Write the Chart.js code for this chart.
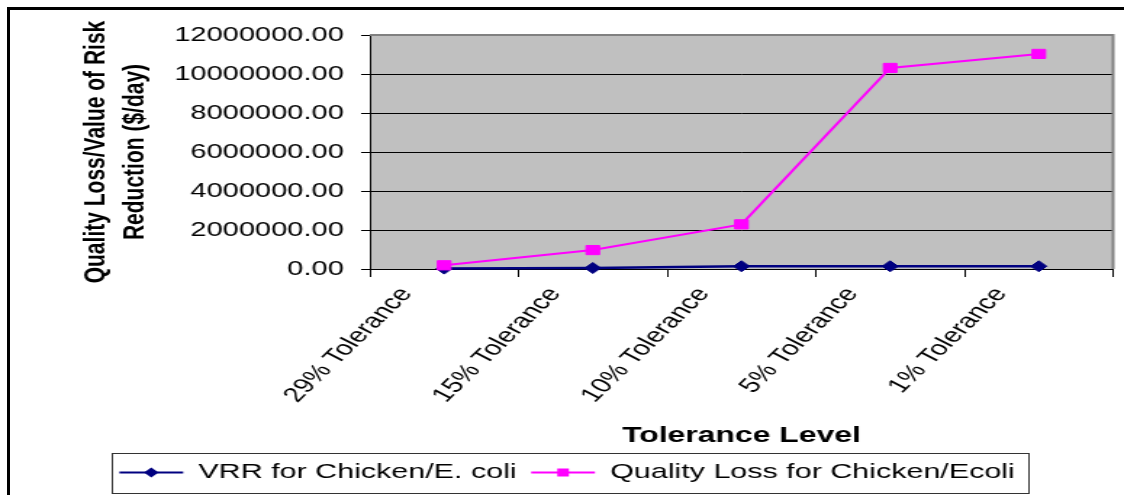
<!DOCTYPE html>
<html>
<head>
<meta charset="utf-8">
<script src="https://cdn.jsdelivr.net/npm/chart.js@4.4.0/dist/chart.umd.min.js"></script>
<style>
  html, body { margin: 0; padding: 0; background: #fff; overflow: hidden; }
  #frame { position: absolute; left: 0; top: 0; width: 1124px; height: 495px; overflow: hidden; }
  /* chart is laid out narrow and widened horizontally, like the original sheet graphic */
  #wrap { position: absolute; left: 0; top: 0; width: 775px; height: 495px; transform: scaleX(1.4503); transform-origin: 0 0; }
  #edge { position: absolute; left: 7px; top: 7px; width: 1300px; height: 700px; border-left: 3px solid #000; border-top: 3px solid #000; pointer-events: none; }
</style>
</head>
<body>
<div id="frame">
  <div id="wrap"><canvas id="chart" width="775" height="495"></canvas></div>
  <div id="edge"></div>
</div>
<script>
// Tolerance levels on the category axis
const categories = ['29% Tolerance', '15% Tolerance', '10% Tolerance', '5% Tolerance', '1% Tolerance'];

// Series names
const seriesNames = ['VRR for Chicken/E. coli', 'Quality Loss for Chicken/Ecoli'];

// Value of risk reduction ($/day)
const vrrValues = [20000, 50000, 140000, 140000, 140000];

// Quality loss ($/day)
const qualityLossValues = [190000, 970000, 2290000, 10310000, 11030000];

// Value axis range and step
const yMin = 0;
const yMax = 12000000;
const yStep = 2000000;

const axisTitleX = 'Tolerance Level';
const axisTitleY = ['Quality Loss/Value of Risk', 'Reduction ($/day)'];

const FONT = "'Liberation Sans', Arial, sans-serif";
Chart.defaults.font.family = FONT;
Chart.defaults.color = '#000';

const seriesColors = ['#000080', '#FF00FF'];
const seriesMarkers = ['rectRot', 'rect'];

// Grey plot background, grey top/right frame, bordered legend with line+marker samples
const plotDecor = {
  id: 'plotDecor',
  beforeDraw(chart) {
    const { ctx, chartArea: a } = chart;
    ctx.save();
    ctx.fillStyle = '#C0C0C0';
    ctx.fillRect(a.left, a.top, a.right - a.left, a.bottom - a.top);
    ctx.restore();
  },
  beforeDatasetsDraw(chart) {
    const { ctx, chartArea: a } = chart;
    ctx.save();
    ctx.strokeStyle = '#808080';
    ctx.lineWidth = 2;
    ctx.beginPath();
    ctx.moveTo(a.left, a.top);
    ctx.lineTo(a.right, a.top);
    ctx.lineTo(a.right, a.bottom);
    ctx.stroke();
    ctx.restore();
  },
  afterDraw(chart) {
    const legend = chart.legend;
    if (!legend || !legend.legendHitBoxes || !legend.legendHitBoxes.length) return;
    const ctx = chart.ctx;
    const boxes = legend.legendHitBoxes;
    const bw = legend.options.labels.boxWidth;
    ctx.save();
    boxes.forEach((hb, i) => {
      const cy = hb.top + hb.height / 2;
      const x0 = hb.left;
      ctx.strokeStyle = seriesColors[i];
      ctx.lineWidth = 2;
      ctx.beginPath();
      ctx.moveTo(x0, cy);
      ctx.lineTo(x0 + bw, cy);
      ctx.stroke();
      const cx = x0 + bw / 2;
      ctx.fillStyle = seriesColors[i];
      ctx.beginPath();
      if (seriesMarkers[i] === 'rectRot') {
        const r = 5;
        ctx.moveTo(cx - r, cy);
        ctx.lineTo(cx, cy - r);
        ctx.lineTo(cx + r, cy);
        ctx.lineTo(cx, cy + r);
        ctx.closePath();
      } else {
        ctx.rect(cx - 4, cy - 4, 8, 8);
      }
      ctx.fill();
    });
    // legend frame
    const first = boxes[0];
    const last = boxes[boxes.length - 1];
    const cy = first.top + first.height / 2;
    const left = first.left - 5;
    const right = last.left + last.width + 10;
    ctx.strokeStyle = '#333';
    ctx.lineWidth = 1;
    ctx.strokeRect(Math.round(left) + 0.5, Math.round(cy - 20) + 0.5, Math.round(right - left), 40);
    ctx.restore();
  }
};

new Chart(document.getElementById('chart'), {
  type: 'line',
  data: {
    labels: categories,
    datasets: [
      {
        label: seriesNames[0],
        data: vrrValues,
        borderColor: seriesColors[0],
        backgroundColor: seriesColors[0],
        borderWidth: 2.5,
        pointStyle: seriesMarkers[0],
        pointRadius: 5.5,
        pointBorderWidth: 1,
        tension: 0,
        clip: false,
        order: 2
      },
      {
        label: seriesNames[1],
        data: qualityLossValues,
        borderColor: seriesColors[1],
        backgroundColor: seriesColors[1],
        borderWidth: 2,
        pointStyle: seriesMarkers[1],
        pointRadius: 6.5,
        pointBorderWidth: 1,
        tension: 0,
        clip: false,
        order: 1
      }
    ]
  },
  options: {
    responsive: false,
    animation: false,
    events: [],
    layout: { padding: { top: 35, left: 14, right: 7, bottom: 2 } },
    plugins: {
      tooltip: { enabled: false },
      legend: {
        display: true,
        position: 'bottom',
        labels: {
          boxWidth: 44,
          padding: 10,
          color: '#000',
          font: { family: FONT, size: 21 },
          generateLabels: (chart) => chart.data.datasets.map((ds, i) => ({
            text: ds.label,
            datasetIndex: i,
            fillStyle: 'rgba(0,0,0,0)',
            strokeStyle: 'rgba(0,0,0,0)',
            lineWidth: 0,
            hidden: false,
            fontColor: '#000'
          }))
        }
      }
    },
    scales: {
      x: {
        offset: true,
        grid: { offset: true, drawOnChartArea: false, drawTicks: true, tickLength: 8, color: '#000' },
        border: { color: '#000', width: 1 },
        ticks: {
          autoSkip: false,
          minRotation: 54,
          maxRotation: 54,
          labelOffset: -26,
          padding: 6,
          color: '#000',
          font: { family: FONT, size: 20.5 }
        },
        title: {
          display: true,
          text: axisTitleX,
          color: '#000',
          font: { family: FONT, size: 22, weight: 'bold', lineHeight: 1.2 },
          padding: { top: 4, bottom: 3 }
        },
        afterFit: (scale) => { scale.height = 183; }
      },
      y: {
        min: yMin,
        max: yMax,
        grid: { color: '#000', lineWidth: 1, tickLength: 6 },
        border: { color: '#000', width: 1 },
        ticks: {
          stepSize: yStep,
          padding: 12,
          color: '#000',
          font: { family: FONT, size: 20 },
          callback: (v) => Number(v).toFixed(2)
        },
        title: {
          display: true,
          text: axisTitleY,
          color: '#000',
          font: { family: FONT, size: 21, weight: 'bold', lineHeight: 1.32 },
          padding: { top: 38, bottom: 0 }
        },
        afterFit: (scale) => { scale.width = 241; }
      }
    }
  },
  plugins: [plotDecor]
});
</script>
</body>
</html>
